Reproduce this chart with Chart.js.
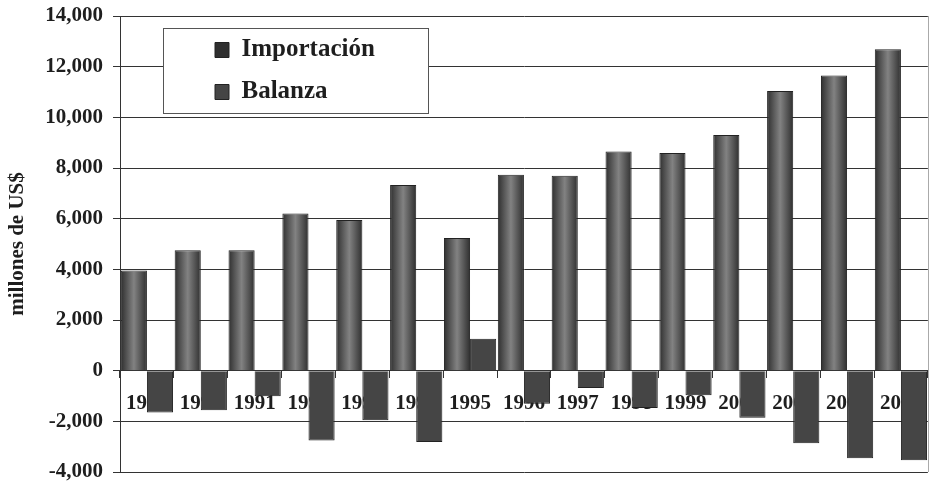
<!DOCTYPE html>
<html lang="es">
<head>
<meta charset="UTF-8">
<title>Importación y Balanza</title>
<style>
  body { margin: 0; background: #fff; }
  #chart { display: block; }
</style>
</head>
<body>
<canvas id="chart" width="935" height="484"></canvas>
<script src="https://cdn.jsdelivr.net/npm/chart.js@4.4.1/dist/chart.umd.min.js"></script>
<script>
const years = ['1989', '1990', '1991', '1992', '1993', '1994', '1995', '1996', '1997', '1998', '1999', '2000', '2001', '2002', '2003'];
const importacion = [3950, 4750, 4750, 6200, 5950, 7330, 5240, 7730, 7690, 8650, 8590, 9300, 11040, 11650, 12690];
const balanza = [-1650, -1560, -1010, -2760, -1960, -2820, 1260, -1310, -680, -1470, -970, -1860, -2870, -3460, -3540];
const yMin = -4000;
const yMax = 14000;
const yStep = 2000;

const serif = '"Liberation Serif", "Times New Roman", serif';
const ink = '#1e1e1e';
const catPct = 0.97;

// cylinder-like shading for the import bars, built from the x scale
function importFill(c) {
    const xs = c.chart.scales.x;
    if (c.type !== 'data' || !xs || !xs.width) return '#4a4a4a';
    const center = xs.getPixelForValue(c.dataIndex);
    const half = xs.width / years.length * catPct / 2;
    if (!isFinite(center) || !isFinite(half)) return '#4a4a4a';
    const g = c.chart.ctx.createLinearGradient(center - half, 0, center, 0);
    g.addColorStop(0, '#2f2f2f');
    g.addColorStop(0.5, '#828282');
    g.addColorStop(1, '#2f2f2f');
    return g;
}

const legendFrame = {
    id: 'legendFrame',
    afterLayout(chart) {
        const lg = chart.legend;
        lg.left = chart.chartArea.left + 78;
        lg.top = chart.chartArea.top + 4.5;
    },
    afterDraw(chart) {
        const ctx = chart.ctx;
        const area = chart.chartArea;
        // right edge of the plot
        ctx.save();
        ctx.strokeStyle = '#aaa';
        ctx.lineWidth = 1;
        ctx.beginPath();
        ctx.moveTo(Math.round(area.right) + 0.5, area.top);
        ctx.lineTo(Math.round(area.right) + 0.5, area.bottom);
        ctx.stroke();

        const lg = chart.legend;
        const hb = lg.legendHitBoxes;
        if (!hb || !hb.length) { ctx.restore(); return; }
        const left = Math.round(hb[0].left - 52);
        const top = Math.round(hb[0].top - 10);
        const right = Math.round(Math.max(...hb.map(b => b.left + b.width)) + 53);
        const last = hb[hb.length - 1];
        const bottom = Math.round(last.top + last.height + 8);
        ctx.fillStyle = '#fff';
        ctx.fillRect(left, top, right - left, bottom - top);
        ctx.strokeStyle = '#555';
        ctx.strokeRect(left + 0.5, top + 0.5, right - left, bottom - top);
        ctx.restore();
        lg.draw();
    }
};

new Chart('chart', {
    type: 'bar',
    data: {
        labels: years,
        datasets: [{
            label: 'Importación',
            data: importacion,
            backgroundColor: importFill,
            borderColor: '#222',
            borderWidth: 1,
            barPercentage: 1,
            categoryPercentage: catPct
        }, {
            label: 'Balanza',
            data: balanza,
            backgroundColor: '#454545',
            borderColor: '#222',
            borderWidth: 1,
            barPercentage: 1,
            categoryPercentage: catPct
        }]
    },
    options: {
        responsive: false,
        animation: false,
        devicePixelRatio: 1,
        layout: { padding: { top: 16, right: 2, bottom: 12, left: 0 } },
        plugins: {
            legend: {
                position: 'chartArea',
                align: 'start',
                labels: {
                    boxWidth: 14,
                    boxHeight: 15,
                    padding: 17,
                    color: ink,
                    font: { family: serif, size: 25, weight: 'bold' }
                }
            },
            tooltip: { enabled: false }
        },
        scales: {
            x: {
                position: { y: 0 },
                grid: { display: true, drawOnChartArea: false, drawTicks: true, tickLength: 7, color: '#333' },
                border: { display: true, color: '#333' },
                ticks: {
                    autoSkip: false,
                    maxRotation: 0,
                    padding: 13,
                    color: ink,
                    font: { family: serif, size: 21, weight: 'bold' }
                }
            },
            y: {
                min: yMin,
                max: yMax,
                ticks: {
                    stepSize: yStep,
                    padding: 10,
                    color: ink,
                    font: { family: serif, size: 21, weight: 'bold' }
                },
                grid: { color: '#333', lineWidth: 1, tickLength: 7 },
                border: { color: '#333' },
                title: {
                    display: true,
                    text: 'millones de US$',
                    color: ink,
                    padding: { top: 5, bottom: 0 },
                    font: { family: serif, size: 21, weight: 'bold' }
                },
                afterFit(scale) {
                    scale.width = 120;
                    scale.paddingTop = 0;
                    scale.paddingBottom = 0;
                }
            }
        }
    },
    plugins: [legendFrame]
});
</script>
</body>
</html>
